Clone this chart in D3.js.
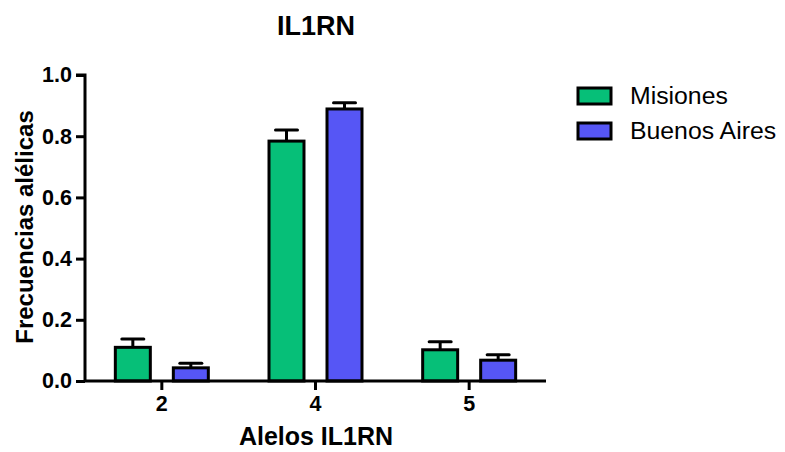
<!DOCTYPE html>
<html><head><meta charset="utf-8">
<script src="https://cdn.jsdelivr.net/npm/d3@7"></script>
<style>body{margin:0;background:#fff}svg{display:block}text{font-family:"Liberation Sans",Arial,sans-serif}</style>
</head><body>
<svg id="c" width="785" height="452"></svg>
<script>
const categories = ["2", "4", "5"];
const seriesNames = ["Misiones", "Buenos Aires"];
const misiones = [0.110, 0.784, 0.102];
const misionesErr = [0.027, 0.036, 0.026];
const buenosAires = [0.043, 0.889, 0.068];
const buenosAiresErr = [0.015, 0.020, 0.018];
const yTicks = [0, 0.2, 0.4, 0.6, 0.8, 1.0];
const colors = ["#06BF78", "#5656F5"];

const values = [misiones, buenosAires];
const errs = [misionesErr, buenosAiresErr];

const svg = d3.select("#c");
const x = d3.scaleBand().domain(categories).range([85, 546]).padding(0);
const bw = x.bandwidth();
const xs = d3.scaleBand().domain(seriesNames).range([bw/2 - 58, bw/2 + 58]).paddingInner(0.345).paddingOuter(0.1725);
const y = d3.scaleLinear().domain([0, 1]).range([381, 75]);

const data = [];
categories.forEach((c, i) => seriesNames.forEach((s, j) => data.push({c, s, j, v: values[j][i], e: errs[j][i]})));

const eg = svg.append("g").attr("stroke", "#000").attr("stroke-width", 3);
data.forEach(d => {
  const cx = x(d.c) + xs(d.s) + xs.bandwidth()/2;
  eg.append("line").attr("x1", cx).attr("x2", cx).attr("y1", y(d.v)).attr("y2", y(d.v + d.e));
  eg.append("line").attr("x1", cx - 11).attr("x2", cx + 11).attr("y1", y(d.v + d.e)).attr("y2", y(d.v + d.e)).attr("stroke-linecap", "round");
});

svg.append("g").selectAll("rect").data(data).join("rect")
  .attr("x", d => x(d.c) + xs(d.s) + 1.5)
  .attr("width", xs.bandwidth() - 3)
  .attr("y", d => y(d.v))
  .attr("height", d => y(0) - y(d.v))
  .attr("fill", d => colors[d.j])
  .attr("stroke", "#000").attr("stroke-width", 3);

const yAxis = svg.append("g").attr("transform", "translate(85,0)")
  .call(d3.axisLeft(y).tickValues(yTicks).tickFormat(d3.format(".1f")).tickSize(9).tickPadding(4));
const xAxis = svg.append("g").attr("transform", "translate(0,381)")
  .call(d3.axisBottom(x).tickSize(9).tickPadding(6));
[yAxis, xAxis].forEach(a => {
  a.select(".domain").attr("stroke-width", 3).attr("stroke", "#000");
  a.selectAll(".tick line").attr("stroke-width", 3).attr("stroke", "#000");
  a.selectAll(".tick text").attr("font-size", 21.5).attr("font-weight", "bold").attr("fill", "#000")
   .style("font-family", '"Liberation Sans",Arial,sans-serif');
});
yAxis.select(".domain").attr("d", "M-9,75H0V381");
xAxis.select(".domain").attr("d", "M85,0H546");

svg.append("text").attr("x", 316).attr("y", 35).attr("text-anchor", "middle")
  .attr("font-size", 27).attr("font-weight", "bold").text("IL1RN");
svg.append("text").attr("x", 316).attr("y", 445).attr("text-anchor", "middle")
  .attr("font-size", 25).attr("font-weight", "bold").text("Alelos IL1RN");
svg.append("text").attr("transform", "translate(33,227) rotate(-90)").attr("text-anchor", "middle")
  .attr("font-size", 24).attr("font-weight", "bold").text("Frecuencias alélicas");

const lg = svg.append("g");
seriesNames.forEach((s, j) => {
  lg.append("rect").attr("x", 578).attr("y", 88 + j * 35).attr("width", 33).attr("height", 16)
    .attr("fill", colors[j]).attr("stroke", "#000").attr("stroke-width", 3);
  lg.append("text").attr("x", 630).attr("y", 104 + j * 35).attr("font-size", 24.8).text(s);
});
</script>
</body></html>
